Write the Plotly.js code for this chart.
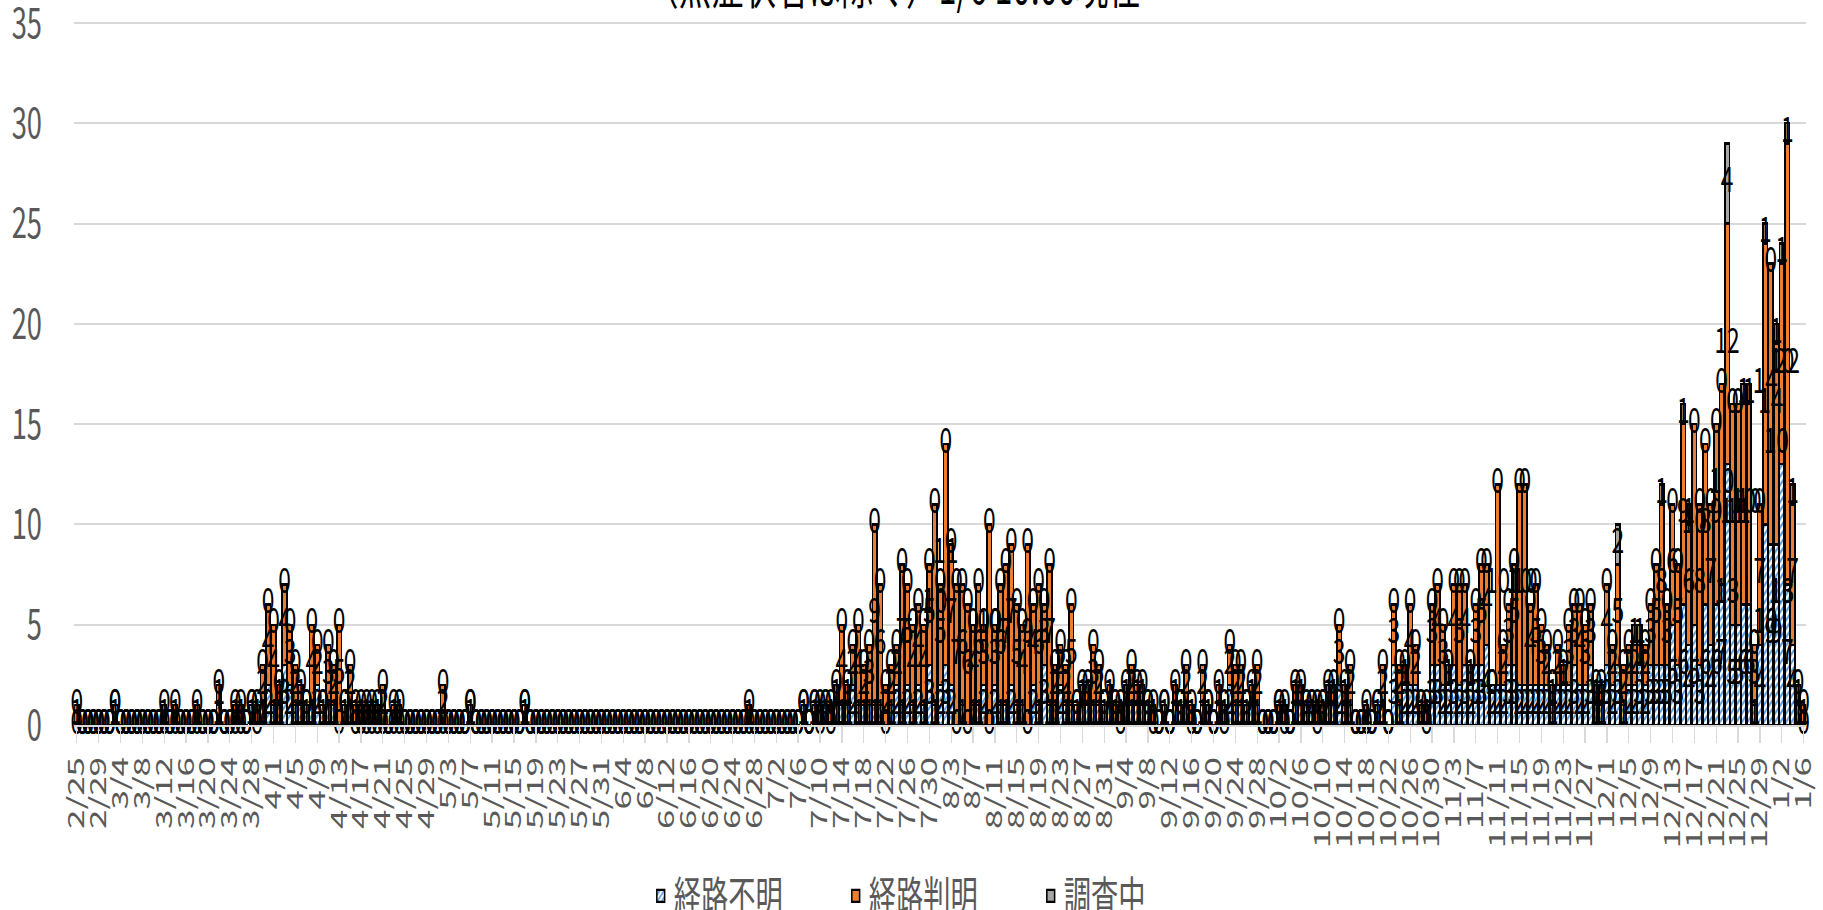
<!DOCTYPE html>
<html>
<head>
<meta charset="utf-8">
<script src="https://cdn.plot.ly/plotly-3.0.1.min.js"></script>
<style>
html,body{margin:0;padding:0;background:#fff;overflow:hidden;}
#wrap{width:1823px;height:910px;overflow:hidden;position:relative;}
#chart{width:2805px;height:910px;transform:scaleX(0.65);transform-origin:0 0;}
</style>
</head>
<body>
<div id="wrap"><div id="chart"></div></div>
<script>
// ---- categories (one per day, 2/25 - 1/6) ----
const dates = [
"2/25","2/26","2/27","2/28","2/29",
"3/1","3/2","3/3","3/4","3/5","3/6","3/7","3/8","3/9","3/10","3/11","3/12","3/13","3/14","3/15","3/16","3/17","3/18","3/19","3/20","3/21","3/22","3/23","3/24","3/25","3/26","3/27","3/28","3/29","3/30","3/31",
"4/1","4/2","4/3","4/4","4/5","4/6","4/7","4/8","4/9","4/10","4/11","4/12","4/13","4/14","4/15","4/16","4/17","4/18","4/19","4/20","4/21","4/22","4/23","4/24","4/25","4/26","4/27","4/28","4/29","4/30",
"5/1","5/2","5/3","5/4","5/5","5/6","5/7","5/8","5/9","5/10","5/11","5/12","5/13","5/14","5/15","5/16","5/17","5/18","5/19","5/20","5/21","5/22","5/23","5/24","5/25","5/26","5/27","5/28","5/29","5/30","5/31",
"6/1","6/2","6/3","6/4","6/5","6/6","6/7","6/8","6/9","6/10","6/11","6/12","6/13","6/14","6/15","6/16","6/17","6/18","6/19","6/20","6/21","6/22","6/23","6/24","6/25","6/26","6/27","6/28","6/29","6/30",
"7/1","7/2","7/3","7/4","7/5","7/6","7/7","7/8","7/9","7/10","7/11","7/12","7/13","7/14","7/15","7/16","7/17","7/18","7/19","7/20","7/21","7/22","7/23","7/24","7/25","7/26","7/27","7/28","7/29","7/30","7/31",
"8/1","8/2","8/3","8/4","8/5","8/6","8/7","8/8","8/9","8/10","8/11","8/12","8/13","8/14","8/15","8/16","8/17","8/18","8/19","8/20","8/21","8/22","8/23","8/24","8/25","8/26","8/27","8/28","8/29","8/30","8/31",
"9/1","9/2","9/3","9/4","9/5","9/6","9/7","9/8","9/9","9/10","9/11","9/12","9/13","9/14","9/15","9/16","9/17","9/18","9/19","9/20","9/21","9/22","9/23","9/24","9/25","9/26","9/27","9/28","9/29","9/30",
"10/1","10/2","10/3","10/4","10/5","10/6","10/7","10/8","10/9","10/10","10/11","10/12","10/13","10/14","10/15","10/16","10/17","10/18","10/19","10/20","10/21","10/22","10/23","10/24","10/25","10/26","10/27","10/28","10/29","10/30","10/31",
"11/1","11/2","11/3","11/4","11/5","11/6","11/7","11/8","11/9","11/10","11/11","11/12","11/13","11/14","11/15","11/16","11/17","11/18","11/19","11/20","11/21","11/22","11/23","11/24","11/25","11/26","11/27","11/28","11/29","11/30",
"12/1","12/2","12/3","12/4","12/5","12/6","12/7","12/8","12/9","12/10","12/11","12/12","12/13","12/14","12/15","12/16","12/17","12/18","12/19","12/20","12/21","12/22","12/23","12/24","12/25","12/26","12/27","12/28","12/29","12/30","12/31",
"1/1","1/2","1/3","1/4","1/5","1/6"
];

// ---- tick labels (every 4th day) ----
const tickLabels = ["2/25","2/29","3/4","3/8","3/12","3/16","3/20","3/24","3/28","4/1","4/5","4/9","4/13","4/17","4/21","4/25","4/29","5/3","5/7","5/11","5/15","5/19","5/23","5/27","5/31","6/4","6/8","6/12","6/16","6/20","6/24","6/28","7/2","7/6","7/10","7/14","7/18","7/22","7/26","7/30","8/3","8/7","8/11","8/15","8/19","8/23","8/27","8/31","9/4","9/8","9/12","9/16","9/20","9/24","9/28","10/2","10/6","10/10","10/14","10/18","10/22","10/26","10/30","11/3","11/7","11/11","11/15","11/19","11/23","11/27","12/1","12/5","12/9","12/13","12/17","12/21","12/25","12/29","1/2","1/6"];

// ---- 経路不明 ----
const unknownCases = [
0,0,0,0,0,
0,0,1,0,0,0,0,0,0,0, 0,0,0,0,0,0,0,0,0,0, 0,1,0,0,0,0,0,1,0,1, 2,
1,1,3,2,1,1,1,1,2,1, 1,1,0,1,1,0,0,0,0,0, 0,0,0,0,0,0,0,0,0,0,
0,0,0,0,0,0,1,0,0,0, 0,0,0,0,0,0,1,0,0,0, 0,0,0,0,0,0,0,0,0,0, 0,
0,0,0,0,0,0,0,0,0,0, 0,0,0,0,0,0,0,0,0,0, 0,0,0,0,0,0,0,0,0,0,
0,0,0,0,0,0,1,0,1,0, 1,0,1,1,1,2,1,1,1,1, 1,0,1,2,1,2,1,2,1,3, 1,
2,3,2,0,1,0,1,1,2,0, 2,1,1,2,1,1,0,2,1,3, 1,1,2,1,1,1,1,1,1,1, 1,
1,1,0,1,1,1,1,1,0,0, 1,0,1,1,1,0,0,1,1,0, 1,0,2,1,1,1,1,1,0,0,
0,1,0,0,1,1,1,1,0,1, 1,1,2,1,1,0,0,0,0,1, 1,0,3,1,2,2,2,1,0,3, 3,
2,2,3,2,3,2,3,3,4,2, 2,2,3,3,2,2,2,2,2,2, 1,2,2,2,3,2,2,3,1,1,
3,2,3,1,2,2,3,2,3,3, 3,3,5,3,6,4,5,3,6,4, 6,7,13,5,5,6,6,1,4,10, 9,
9,13,7,4,1,0
];

// ---- 経路判明 ----
const knownCases = [
1,0,0,0,0,
0,0,0,0,0,0,0,0,0,0, 0,1,0,1,0,0,0,1,0,0, 0,1,0,0,1,1,0,0,1,2, 4,
4,1,4,3,2,1,0,4,2,0, 3,2,5,0,2,1,1,1,1,1, 2,0,1,1,0,0,0,0,0,0,
0,2,0,0,0,0,0,0,0,0, 0,0,0,0,0,0,0,0,0,0, 0,0,0,0,0,0,0,0,0,0, 0,
0,0,0,0,0,0,0,0,0,0, 0,0,0,0,0,0,0,0,0,0, 0,0,0,0,0,0,1,0,0,0,
0,0,0,0,0,0,0,0,0,1, 0,1,1,4,1,2,4,2,3,9, 6,2,2,2,7,5,4,4,4,5, 10,
5,11,7,7,6,6,4,6,3,10, 3,6,7,7,5,4,9,4,6,3, 7,2,2,2,5,0,1,1,3,2, 0,
1,0,1,1,2,1,1,0,1,0, 0,0,1,0,2,1,0,2,0,0, 1,1,2,2,2,0,1,2,0,0,
0,0,1,0,1,1,0,0,1,0, 1,1,3,1,2,0,0,1,0,0, 2,0,3,2,1,4,2,0,1,3, 4,
3,1,4,5,4,1,3,5,4,0, 10,2,3,5,10,10,4,5,3,2, 1,2,1,3,3,4,3,3,1,1,
4,2,5,2,2,2,1,2,3,5, 8,3,6,5,9,6,10,8,8,7, 9,10,12,11,11,10,10,3,7,14, 14,
10,10,22,7,1,1
];

// ---- 調査中 ----
const pendingCases = [
0,0,0,0,0,
0,0,0,0,0,0,0,0,0,0, 0,0,0,0,0,0,0,0,0,0, 0,0,0,0,0,0,0,0,0,0, 0,
0,0,0,0,0,0,0,0,0,0, 0,0,0,0,0,0,0,0,0,0, 0,0,0,0,0,0,0,0,0,0,
0,0,0,0,0,0,0,0,0,0, 0,0,0,0,0,0,0,0,0,0, 0,0,0,0,0,0,0,0,0,0, 0,
0,0,0,0,0,0,0,0,0,0, 0,0,0,0,0,0,0,0,0,0, 0,0,0,0,0,0,0,0,0,0,
0,0,0,0,0,0,0,0,0,0, 0,0,0,0,0,0,0,0,0,0, 0,0,0,0,0,0,0,0,0,0, 0,
0,0,0,0,0,0,0,0,0,0, 0,0,0,0,0,0,0,0,0,0, 0,0,0,0,0,0,0,0,0,0, 0,
0,0,0,0,0,0,0,0,0,0, 0,0,0,0,0,0,0,0,0,0, 0,0,0,0,0,0,0,0,0,0,
0,0,0,0,0,0,0,0,0,0, 0,0,0,0,0,0,0,0,0,0, 0,0,0,0,0,0,0,0,0,0, 0,
0,0,0,0,0,0,0,0,0,0, 0,0,0,0,0,0,0,0,0,0, 0,0,0,0,0,0,0,0,0,0,
0,0,2,0,0,1,1,0,0,0, 1,0,0,0,1,1,0,0,0,0, 0,0,4,0,0,1,1,0,0,1, 0,
1,1,1,1,0,0
];

const seriesNames = ["経路不明", "経路判明", "調査中"];
const titleText = "（無症状者は除く）1/6 10:00現在";

const FONT = "'Noto Sans CJK JP', 'Noto Sans', sans-serif";
const GRAY_TEXT = "#595959";

// label positions: centre of each stacked segment
const yUnknownLbl = unknownCases.map(v => v / 2);
const yKnownLbl = unknownCases.map((v, i) => v + knownCases[i] / 2);
const yPendLbl = unknownCases.map((v, i) => v + knownCases[i] + pendingCases[i] / 2);

const barLine = {color: "#000000", width: 2.4};
const lblFont = {family: FONT, size: 35, color: "#000000"};

const traces = [
  {type: "bar", name: seriesNames[0], x: dates, y: unknownCases,
   marker: {color: "#5b9bd5", line: barLine,
            pattern: {shape: "/", fgcolor: "#5b9bd5", bgcolor: "#ffffff", size: 6, solidity: 0.45, fillmode: "replace"}},
   hoverinfo: "x+y+name"},
  {type: "bar", name: seriesNames[1], x: dates, y: knownCases,
   marker: {color: "#ed7d31", line: barLine}, hoverinfo: "x+y+name"},
  {type: "bar", name: seriesNames[2], x: dates, y: pendingCases,
   marker: {color: "#a5a5a5", line: barLine}, hoverinfo: "x+y+name"},
  {type: "scatter", mode: "text", x: dates, y: yUnknownLbl, text: unknownCases.map(String),
   textfont: lblFont, showlegend: false, hoverinfo: "skip", cliponaxis: false},
  {type: "scatter", mode: "text", x: dates, y: yKnownLbl, text: knownCases.map(String),
   textfont: lblFont, showlegend: false, hoverinfo: "skip", cliponaxis: false},
  {type: "scatter", mode: "text", x: dates, y: yPendLbl, text: pendingCases.map(String),
   textfont: lblFont, showlegend: false, hoverinfo: "skip", cliponaxis: false}
];

const layout = {
  width: 2805, height: 910,
  margin: {l: 114, r: 26, t: 21, b: 185, pad: 0, autoexpand: false},
  paper_bgcolor: "#ffffff", plot_bgcolor: "#ffffff",
  barmode: "stack", bargap: 0.18,
  font: {family: FONT, color: GRAY_TEXT},
  title: {text: titleText, font: {family: FONT, size: 50, color: "#000000"},
          x: 0.49, xref: "container", xanchor: "center",
          y: 1, yref: "container", yanchor: "top", pad: {t: -31}},
  xaxis: {type: "category", tickmode: "array", tickvals: tickLabels, ticktext: tickLabels,
          tickangle: -90, tickfont: {family: FONT, size: 35, color: GRAY_TEXT},
          showgrid: false, showline: true, linecolor: "#d9d9d9", linewidth: 2,
          ticks: "outside", ticklen: 16, tickwidth: 2, tickcolor: "#d9d9d9",
          range: [-0.5, dates.length - 0.5], fixedrange: true, automargin: false},
  yaxis: {range: [0, 35.1], dtick: 5, tick0: 0, showgrid: true, gridcolor: "#d9d9d9", gridwidth: 2,
          zeroline: false, showline: false, ticklabeloverflow: "allow",
          ticks: "outside", ticklen: 40, tickcolor: "rgba(0,0,0,0)",
          tickfont: {family: FONT, size: 42, color: GRAY_TEXT}, fixedrange: true, automargin: false},
  legend: {orientation: "h", traceorder: "normal", x: 0.5, xanchor: "center", y: -0.243, yanchor: "middle",
           font: {family: FONT, size: 42, color: GRAY_TEXT},
           entrywidth: 255, entrywidthmode: "pixels", itemwidth: 30,
           bgcolor: "rgba(0,0,0,0)"},
  showlegend: true
};

Plotly.newPlot("chart", traces, layout, {displayModeBar: false, staticPlot: true});
</script>
</body>
</html>
